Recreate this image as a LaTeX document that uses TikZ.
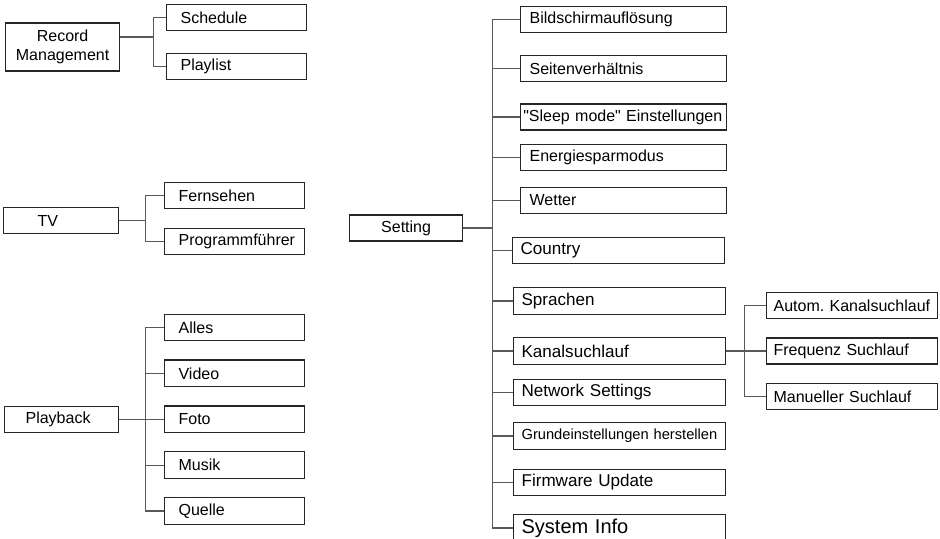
\documentclass[tikz,border=0pt]{standalone}
\usepackage{fontspec}
\setmainfont{Liberation Sans}
\usetikzlibrary{positioning}
\newcommand\dquote{\XeTeXglyph\XeTeXcharglyph"22\relax}

\begin{document}
\begin{tikzpicture}[
    x=0.75pt, y=-0.75pt,
    node distance=13.5pt,
    item/.style={rectangle, draw=black!85, line width=0.9pt, anchor=west, align=left, inner xsep=2pt, inner ysep=0pt, minimum height=19.5pt, font=\fontsize{12}{14.5}\selectfont},
    root/.style={item, align=center, text width=81.5pt},
    sub/.style={item, text width=101pt, execute at begin node=\hspace*{#1}},
    sub/.default=8.5pt,
    opt/.style={item, text width=150.5pt, execute at begin node=\hspace*{#1}},
    opt/.default=4.75pt,
    optlow/.style={item, text width=155pt, minimum height=20pt, execute at begin node=\hspace*{4pt}, font=\fontsize{12.8}{15}\selectfont},
    scan/.style={item, text width=124.25pt, execute at begin node=\hspace*{3.25pt}},
    link/.style={draw=black!65, line width=0.9pt}
]
\useasboundingbox (0,0) rectangle (940,539);

% record management
\node (rec) [root, minimum height=36pt] at (5,47) {Record\\Management};
\node (sched) [sub] at (166,17.5) {Schedule};
\node (plist) [sub, below=16.5pt of sched] {Playlist};
\draw [link] ([yshift=7.5pt]rec.east) -- ++(33,0) |- (sched.west);
\draw [link] ([yshift=7.5pt]rec.east) -- ++(33,0) |- (plist.west);

% tv
\node (tv) [root, align=left, text width=82.25pt, minimum height=19pt, execute at begin node=\hspace*{23.5pt}] at (3,220.5) {TV};
\node (fern) [sub] at (164,195.5) {Fernsehen};
\node (prog) [sub, below=14.25pt of fern] {Programmführer};
\draw [link] (tv.east) -- ++(26,0) |- (fern.west);
\draw [link] (tv.east) -- ++(26,0) |- (prog.west);

% playback
\node (pb) [root, align=left, minimum height=20pt, execute at begin node=\hspace*{13.75pt}] at (4,419.5) {Playback};
\node (alles) [sub, minimum height=20pt] at (164,327.5) {Alles};
\node (video) [sub, minimum height=20pt, below=of alles] {Video};
\node (foto) [sub, minimum height=20pt, below=of video] {Foto};
\node (musik) [sub, minimum height=20pt, below=of foto] {Musik};
\node (quelle) [sub, minimum height=20pt, below=of musik] {Quelle};
\draw [link] (pb.east) -- ++(26,0) |- (alles.west);
\draw [link] (pb.east) -- ++(26,0) |- (video.west);
\draw [link] (pb.east) -- ++(26,0) |- (foto.west);
\draw [link] (pb.east) -- ++(26,0) |- (musik.west);
\draw [link] (pb.east) -- ++(26,0) |- (quelle.west);

% setting
\node (set) [root, text width=80.75pt] at (349,228) {Setting};
\node (bild) [opt] at (520,19.5) {Bildschirmauflösung};
\node (seite) [opt] at (520,68.5) {Seitenverhältnis};
\node (sleep) [opt=0pt] at (520,117) {\dquote Sleep mode\dquote{} Einstellungen};
\node (energie) [opt] at (520,157.5) {Energiesparmodus};
\node (wetter) [opt] at (520,200.5) {Wetter};
\node (country) [optlow] at (512,250.5) {Country};
\node (sprache) [optlow] at (513,301) {Sprachen};
\node (kanal) [optlow] at (513,351) {Kanalsuchlauf};
\node (netz) [optlow] at (513,392.5) {Network Settings};
\node (grund) [optlow, font=\fontsize{11}{13}\selectfont] at (513,436) {Grundeinstellungen herstellen};
\node (firm) [optlow] at (513,482.5) {Firmware Update};
\node (sysinfo) [optlow, font=\fontsize{15}{17}\selectfont] at (513,528) {System Info};
\draw [link] (set.east) -- ++(29,0) |- (bild.west);
\draw [link] (set.east) -- ++(29,0) |- (seite.west);
\draw [link] (set.east) -- ++(29,0) |- (sleep.west);
\draw [link] (set.east) -- ++(29,0) |- (energie.west);
\draw [link] (set.east) -- ++(29,0) |- (wetter.west);
\draw [link] (set.east) -- ++(29,0) |- (country.west);
\draw [link] (set.east) -- ++(29,0) |- (sprache.west);
\draw [link] (set.east) -- ++(29,0) |- (kanal.west);
\draw [link] (set.east) -- ++(29,0) |- (netz.west);
\draw [link] (set.east) -- ++(29,0) |- (grund.west);
\draw [link] (set.east) -- ++(29,0) |- (firm.west);
\draw [link] (set.east) -- ++(29,0) |- (sysinfo.west);

% kanalsuchlauf
\node (autom) [scan] at (766,305.5) {Autom.\ Kanalsuchlauf};
\node (freq) [scan] at (766,351) {Frequenz Suchlauf};
\node (manu) [scan] at (766,396.5) {Manueller Suchlauf};
\draw [link] (kanal.east) -- ++(18,0) |- (autom.west);
\draw [link] (kanal.east) -- ++(18,0) |- (freq.west);
\draw [link] (kanal.east) -- ++(18,0) |- (manu.west);
\end{tikzpicture}
\end{document}
